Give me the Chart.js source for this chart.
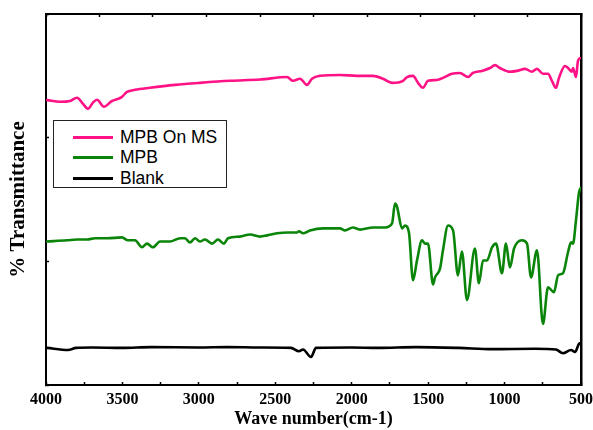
<!DOCTYPE html>
<html lang="en">
<head>
    <meta charset="UTF-8">
    <title>% Transmittance vs Wave number</title>
    <script src="https://cdn.jsdelivr.net/npm/chart.js"></script>
    <style>
        body {
            margin: 0;
            background: #fff;
        }
        .wrap {
            position: relative;
            width: 593px;
            height: 430px;
        }
        .legend {
            position: absolute;
            left: 53px;
            top: 120px;
            width: 174px;
            height: 68px;
            border: 1px solid #222;
            background: #fff;
            font-family: 'Liberation Sans', Arial, sans-serif;
            font-size: 17.5px;
            color: #000;
            box-sizing: border-box;
            padding-top: 6px;
        }
        .legend-item {
            display: flex;
            align-items: center;
            height: 20.5px;
        }
        .legend-item span.sw {
            display: inline-block;
            width: 40px;
            height: 3px;
            margin-left: 19px;
            margin-right: 7px;
        }
    </style>
</head>
<body>
    <div class="wrap">
        <canvas id="ftir" width="593" height="430"></canvas>
        <div class="legend" id="legend"></div>
    </div>

    <script>
        // series (wave number in cm-1, transmittance in arbitrary %)
        const seriesNames = ['MPB On MS', 'MPB', 'Blank'];
        const seriesColors = ['#ff1286', '#0a850a', '#000000'];

        const msWave = [3993, 3908, 3843, 3797, 3758, 3725, 3693, 3666, 3621, 3568, 3529, 3503, 3470, 3418, 3320, 3156, 2993, 2796, 2600, 2423,
            2384, 2338, 2293, 2260, 2207, 2077, 1965, 1861, 1795, 1736, 1664, 1638, 1599, 1566, 1534, 1501, 1442, 1403, 1344, 1292,
            1239, 1207, 1148, 1095, 1063, 1030, 965, 919, 866, 821, 788, 749, 716, 690, 664, 644, 605, 585, 559, 552,
            533, 520, 507];
        const msT = [69.1, 68.7, 68.9, 69.7, 68.2, 67.0, 68.5, 69.2, 67.5, 68.9, 69.4, 69.9, 71.1, 71.6, 72.1, 72.8, 73.3, 73.8, 74.1, 74.7,
            73.8, 74.3, 72.8, 74.3, 75.0, 75.2, 75.0, 75.0, 74.3, 73.3, 73.8, 74.7, 75.0, 73.3, 72.1, 73.8, 74.0, 74.5, 75.5, 75.7,
            74.7, 75.7, 76.2, 76.9, 77.6, 76.9, 76.0, 76.2, 76.7, 76.0, 76.7, 75.5, 75.5, 73.8, 72.1, 74.5, 77.4, 76.9, 76.0, 76.9,
            74.7, 78.6, 79.3];

        const mpbWave = [3993, 3863, 3797, 3732, 3679, 3601, 3503, 3464, 3418, 3372, 3339, 3300, 3254, 3189, 3123, 3091, 3058, 3025, 2993, 2960,
            2914, 2875, 2836, 2809, 2731, 2665, 2600, 2554, 2489, 2417, 2358, 2345, 2319, 2273, 2188, 2077, 2044, 1992, 1946, 1861,
            1782, 1736, 1717, 1704, 1671, 1651, 1625, 1599, 1573, 1540, 1521, 1501, 1468, 1455, 1422, 1403, 1370, 1337, 1305, 1279,
            1246, 1194, 1168, 1141, 1115, 1082, 1056, 1017, 991, 965, 938, 886, 853, 827, 788, 749, 716, 677, 650, 618,
            585, 565, 552, 533, 513, 500];
        const mpbT = [34.8, 35.1, 35.3, 35.3, 35.6, 35.6, 35.8, 35.1, 35.1, 33.4, 34.3, 33.4, 34.8, 34.8, 35.6, 35.6, 34.6, 35.6, 34.8, 35.3,
            34.3, 35.3, 34.3, 35.6, 36.0, 36.5, 36.0, 36.3, 36.8, 37.0, 37.0, 37.3, 36.8, 37.5, 38.0, 38.0, 37.5, 38.2, 37.7, 38.2,
            38.2, 39.2, 44.0, 43.3, 38.0, 38.7, 36.8, 25.4, 30.2, 35.1, 34.3, 34.3, 24.4, 26.1, 28.3, 32.7, 38.7, 37.5, 26.6, 32.4,
            20.6, 33.1, 24.7, 30.2, 30.2, 33.4, 34.3, 27.1, 34.3, 28.5, 33.1, 35.1, 34.3, 26.1, 32.7, 14.8, 23.7, 22.5, 26.6, 27.1,
            32.2, 34.6, 34.3, 39.9, 46.7, 47.9];

        const blankWave = [3993, 3856, 3804, 3700, 3500, 3313, 3000, 2816, 2600, 2397, 2345, 2319, 2266, 2234, 2000, 1828, 1579, 1300, 1082, 800,
            664, 618, 565, 539, 513, 500];
        const blankT = [9.0, 8.5, 9.0, 9.1, 9.0, 9.2, 9.1, 9.2, 9.1, 9.0, 8.2, 8.6, 6.8, 9.0, 9.1, 9.0, 9.2, 9.0, 8.7, 8.8,
            8.6, 7.7, 8.5, 8.0, 10.0, 10.2];

        const waveMin = 500, waveMax = 4000;
        const tMin = 0, tMax = 90;

        function pairs(xs, ys) {
            return xs.map((x, i) => ({ x: x, y: ys[i] }));
        }

        const seriesData = [pairs(msWave, msT), pairs(mpbWave, mpbT), pairs(blankWave, blankT)];

        const datasets = seriesNames.map((name, i) => ({
            label: name,
            data: seriesData[i],
            borderColor: seriesColors[i],
            backgroundColor: seriesColors[i],
            borderWidth: 2.6,
            pointRadius: 0,
            tension: 0.25,
            cubicInterpolationMode: 'monotone',
            borderJoinStyle: 'round',
            borderCapStyle: 'round',
            fill: false
        }));

        const serif = "'Liberation Serif', 'Times New Roman', serif";

        // fixed axis sizes so the plot box lands where the reference has it
        function fixSize(w, h) {
            return s => {
                if (w !== null) s.width = w;
                if (h !== null) s.height = h;
                s.paddingLeft = 0;
                s.paddingRight = 0;
                s.paddingTop = 0;
                s.paddingBottom = 0;
            };
        }

        const config = {
            type: 'line',
            data: { datasets: datasets },
            options: {
                responsive: false,
                animation: false,
                layout: { padding: { top: 14, right: 12, left: 0, bottom: 0 } },
                plugins: {
                    legend: { display: false },
                    tooltip: { enabled: false }
                },
                scales: {
                    x: {
                        type: 'linear',
                        position: 'bottom',
                        reverse: true,
                        min: waveMin,
                        max: waveMax,
                        afterFit: fixSize(null, 45),
                        border: { display: true, color: '#000', width: 2 },
                        grid: { drawOnChartArea: false, tickLength: -3, tickColor: '#000', tickWidth: 1.5 },
                        ticks: {
                            stepSize: 250,
                            autoSkip: false,
                            maxRotation: 0,
                            padding: 8,
                            color: '#000',
                            font: { family: serif, size: 16, weight: 'bold' },
                            callback: v => (v % 500 === 0 ? v : '')
                        },
                        title: {
                            display: true,
                            text: 'Wave number(cm-1)',
                            color: '#000',
                            padding: { top: 0, bottom: 0 },
                            font: { family: serif, size: 18, weight: 'bold' }
                        }
                    },
                    xTop: {
                        type: 'linear',
                        position: 'top',
                        reverse: true,
                        min: waveMin,
                        max: waveMax,
                        afterFit: fixSize(null, 0),
                        border: { display: true, color: '#000', width: 2 },
                        grid: { drawOnChartArea: false, tickLength: -3, tickColor: '#000', tickWidth: 1.5 },
                        ticks: { stepSize: 350, autoSkip: false, callback: () => '' }
                    },
                    y: {
                        type: 'linear',
                        position: 'left',
                        min: tMin,
                        max: tMax,
                        afterFit: fixSize(46, null),
                        border: { display: true, color: '#000', width: 2 },
                        grid: { drawOnChartArea: false, tickLength: -3, tickColor: '#000', tickWidth: 1.5 },
                        ticks: { stepSize: 30, callback: () => '' },
                        title: {
                            display: true,
                            text: '% Transmittance',
                            color: '#000',
                            padding: { top: 6, bottom: 0 },
                            font: { family: serif, size: 21, weight: 'bold' }
                        }
                    },
                    yRight: {
                        type: 'linear',
                        position: 'right',
                        min: tMin,
                        max: tMax,
                        afterFit: fixSize(0, null),
                        border: { display: true, color: '#000', width: 2.5 },
                        grid: { display: false },
                        ticks: { display: false }
                    }
                }
            }
        };

        const chart = new Chart(document.getElementById('ftir'), config);

        // legend box inside the plot, built from the series
        const legendEl = document.getElementById('legend');
        seriesNames.forEach((name, i) => {
            const row = document.createElement('div');
            row.className = 'legend-item';
            const sw = document.createElement('span');
            sw.className = 'sw';
            sw.style.background = seriesColors[i];
            const label = document.createElement('span');
            label.textContent = name;
            row.appendChild(sw);
            row.appendChild(label);
            legendEl.appendChild(row);
        });
    </script>
</body>
</html>
